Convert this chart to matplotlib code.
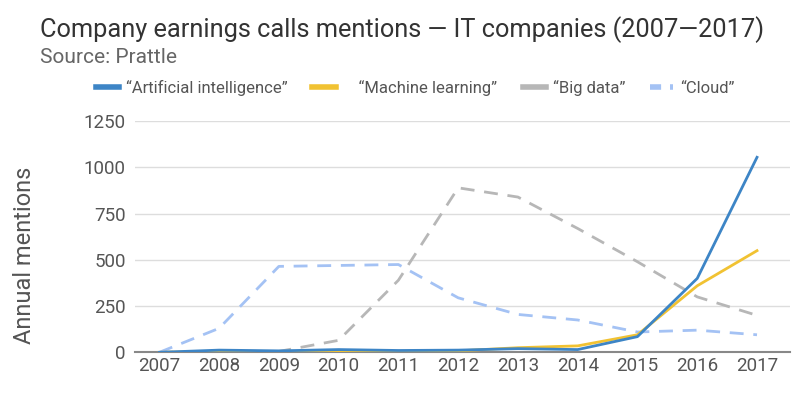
import matplotlib.pyplot as plt
from matplotlib.lines import Line2D

plt.rcParams['font.family'] = ['Roboto', 'DejaVu Sans']

years = list(range(2007, 2018))
ai = [0, 12, 8, 15, 10, 12, 20, 15, 85, 400, 1055]
ml = [0, 5, 3, 5, 5, 8, 25, 35, 95, 360, 550]
big_data = [0, 5, 5, 65, 390, 890, 840, 670, 490, 300, 200]
cloud = [0, 130, 465, 470, 475, 295, 205, 175, 110, 120, 95]

labels = ['\u201cArtificial intelligence\u201d', '    \u201cMachine learning\u201d',
          '\u201cBig data\u201d', '\u201cCloud\u201d']
colors = ['#3d85c6', '#f1c232', '#b7b7b7', '#a4c2f4']

fig = plt.figure(figsize=(8.06, 3.95), dpi=100)
ax = fig.add_axes([0.168, 0.108, 0.812, 0.585])

ax.plot(years, big_data, color=colors[2], lw=2, dashes=(5, 3.5), zorder=2)
ax.plot(years, cloud, color=colors[3], lw=2, dashes=(5, 3.5), zorder=2)
ax.plot(years, ml, color=colors[1], lw=2, zorder=3)
ax.plot(years, ai, color=colors[0], lw=2, zorder=4)

ax.set_xlim(2006.6, 2017.55)
ax.set_ylim(0, 1250)
ax.set_yticks([0, 250, 500, 750, 1000, 1250])
ax.set_xticks(years)
ax.grid(axis='y', color='#dddddd', lw=1)
ax.set_axisbelow(True)
for s in ['top', 'right', 'left']:
    ax.spines[s].set_visible(False)
ax.spines['bottom'].set_color('#888888')
ax.spines['bottom'].set_linewidth(1.5)
ax.tick_params(length=0, labelsize=13.5, colors='#555555', pad=3)
ax.tick_params(axis='y', pad=7)
ax.set_ylabel('Annual mentions', fontsize=17, color='#555555')
ax.yaxis.set_label_coords(-0.152, 0.42)

fig.text(0.05, 0.905, 'Company earnings calls mentions \u2014 IT companies (2007\u20142017)',
         fontsize=18.3, color='#333333')
fig.text(0.05, 0.84, 'Source: Prattle', fontsize=15, color='#666666')

handles = [Line2D([], [], color=colors[0], lw=4),
           Line2D([], [], color=colors[1], lw=4),
           Line2D([], [], color=colors[2], lw=4),
           Line2D([], [], color=colors[3], lw=4, dashes=(2.0, 1.6))]
fig.legend(handles, labels, loc='center',
           bbox_to_anchor=(0.515, 0.777), ncol=4, frameon=False, fontsize=12,
           handlelength=1.4, columnspacing=1.5, handletextpad=0.4,
           labelcolor='#555555')

fig.savefig('out.png', dpi=100)
